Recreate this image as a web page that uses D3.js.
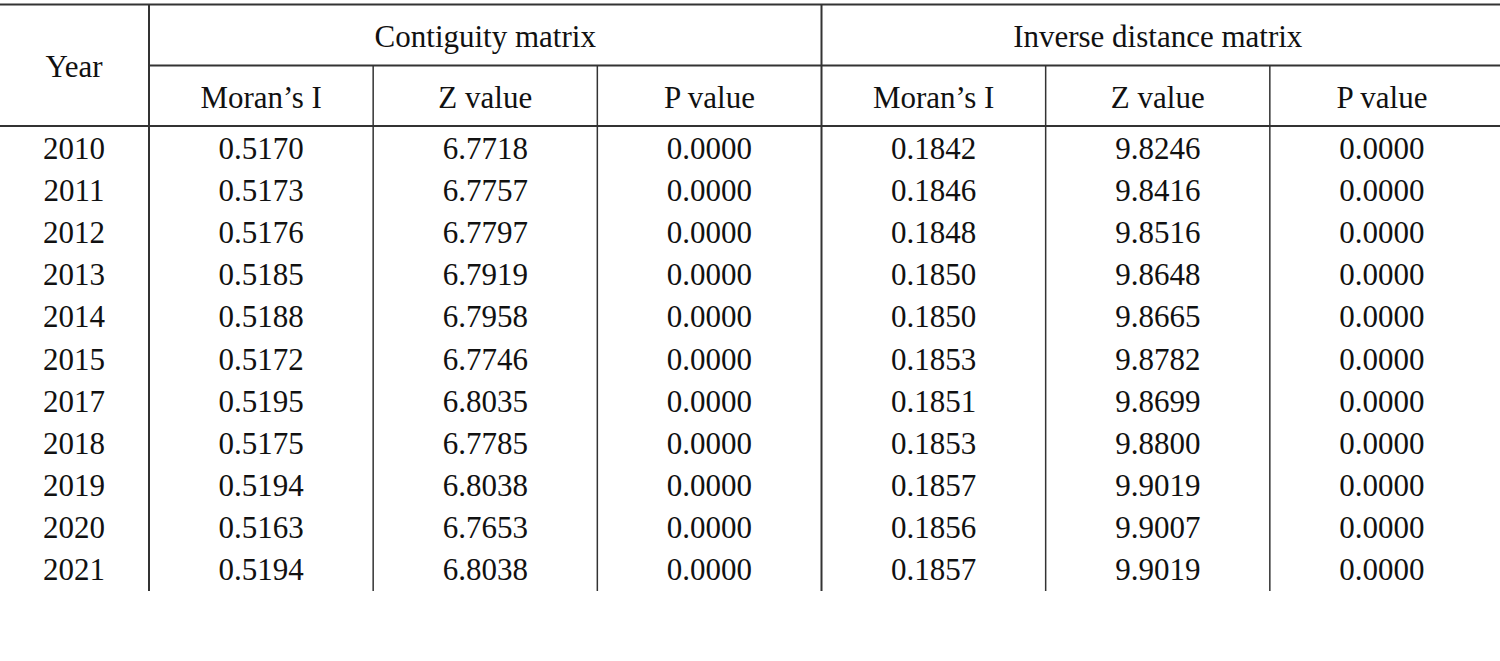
<!DOCTYPE html>
<html><head><meta charset="utf-8">
<script src="https://cdn.jsdelivr.net/npm/d3@7"></script>
<style>body{margin:0;background:#fff}</style>
</head><body>
<svg id="t" width="1500" height="661"></svg>
<script>
const years = ['2010','2011','2012','2013','2014','2015','2017','2018','2019','2020','2021'];
const groups = ['Contiguity matrix', 'Inverse distance matrix'];
const subHeaders = ["Moran’s I", 'Z value', 'P value'];
const contMoran = ['0.5170','0.5173','0.5176','0.5185','0.5188','0.5172','0.5195','0.5175','0.5194','0.5163','0.5194'];
const contZ = ['6.7718','6.7757','6.7797','6.7919','6.7958','6.7746','6.8035','6.7785','6.8038','6.7653','6.8038'];
const contP = years.map(() => '0.0000');
const invMoran = ['0.1842','0.1846','0.1848','0.1850','0.1850','0.1853','0.1851','0.1853','0.1857','0.1856','0.1857'];
const invZ = ['9.8246','9.8416','9.8516','9.8648','9.8665','9.8782','9.8699','9.8800','9.9019','9.9007','9.9019'];
const invP = years.map(() => '0.0000');

const columns = [contMoran, contZ, contP, invMoran, invZ, invP];
const svg = d3.select('#t');
const ink = '#333';
const font = '"Liberation Serif", "DejaVu Serif", serif';

// column edges: year column, then six equal columns
const x = d3.scaleLinear().domain([0, 6]).range([149, 1494]);
const y = d3.scaleBand().domain(years).range([127, 591]);

function line(x1, y1, x2, y2, w) {
  svg.append('line').attr('x1', x1).attr('y1', y1).attr('x2', x2).attr('y2', y2)
    .attr('stroke', ink).attr('stroke-width', w);
}
function text(tx, ty, s) {
  svg.append('text').attr('x', tx).attr('y', ty).attr('text-anchor', 'middle')
    .attr('dominant-baseline', 'central').attr('font-family', font)
    .attr('font-size', 31).attr('fill', '#111').text(s);
}

line(0, 4.5, 1500, 4.5, 2);
line(149, 65.5, 1500, 65.5, 2);
line(0, 126, 1500, 126, 2);
line(149, 4, 149, 591, 2);
line(x(3), 4, x(3), 591, 2);
[1, 2, 4, 5].forEach(i => line(x(i), 65, x(i), 591, 1.5));

text(74, 66, 'Year');
groups.forEach((g, i) => text((x(i * 3) + x(i * 3 + 3)) / 2, 36, g));
d3.range(6).forEach(i => text((x(i) + x(i + 1)) / 2, 97, subHeaders[i % 3]));

years.forEach((yr, r) => {
  const cy = y(yr) + y.bandwidth() / 2 - 0;
  text(74, cy, yr);
  columns.forEach((col, i) => text((x(i) + x(i + 1)) / 2, cy, col[r]));
});
</script>
</body></html>
